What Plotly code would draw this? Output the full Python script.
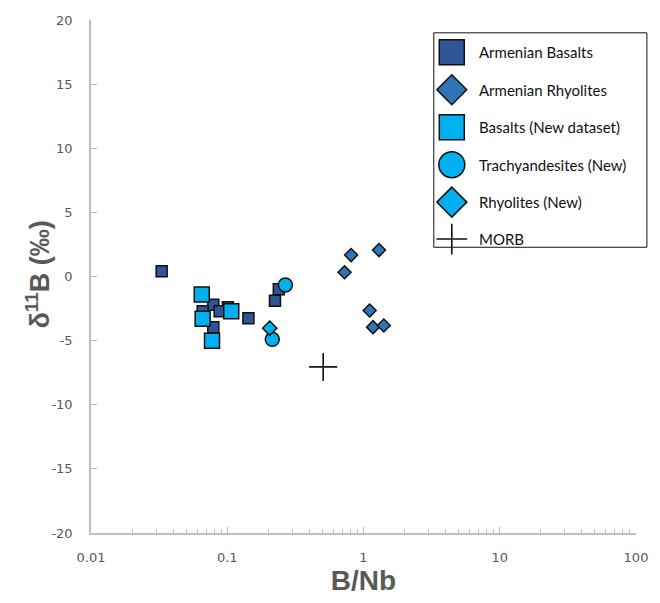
import plotly.graph_objects as go

# ---- data: B/Nb ratio vs d11B (permil) ----
arm_basalt_bnb = [0.033, 0.079, 0.101, 0.088, 0.066, 0.079, 0.143, 0.224, 0.239]
arm_basalt_d11b = [0.4, -2.2, -2.4, -2.7, -2.7, -3.95, -3.25, -1.9, -1.0]

arm_rhyolite_bnb = [0.811, 1.30, 0.726, 1.11, 1.175, 1.41]
arm_rhyolite_d11b = [1.67, 2.06, 0.33, -2.65, -3.95, -3.82]

new_basalt_bnb = [0.065, 0.107, 0.066, 0.0773]
new_basalt_d11b = [-1.4, -2.7, -3.3, -5.0]

trachy_bnb = [0.267, 0.214]
trachy_d11b = [-0.66, -4.9]

new_rhyolite_bnb = [0.205]
new_rhyolite_d11b = [-4.03]

morb_bnb = [0.506]
morb_d11b = [-7.05]

x_ticks = [0.01, 0.1, 1, 10, 100]
x_tick_text = ["0.01", "0.1", "1", "10", "100"]
y_ticks = [-20, -15, -10, -5, 0, 5, 10, 15, 20]
y_tick_text = ["-20", "-15", "-10", "-5", "0", "5", "10", "15", "20"]

DARK = "#2F5597"
MID = "#2E75B6"
LIGHT = "#00B0F0"
INK = "#111111"
AXIS_GREY = "#BFBFBF"
TEXT_GREY = "#595959"

# minor ticks at 2..9 within each decade
x_minor = [m * d for d in x_ticks[:-1] for m in range(2, 10)]

series = [
    dict(name="Armenian Basalts", x=arm_basalt_bnb, y=arm_basalt_d11b,
         symbol="square", color=DARK, size=11, lsize=25),
    dict(name="Armenian Rhyolites", x=arm_rhyolite_bnb, y=arm_rhyolite_d11b,
         symbol="diamond", color=MID, size=10, lsize=23),
    dict(name="Basalts (New dataset)", x=new_basalt_bnb, y=new_basalt_d11b,
         symbol="square", color=LIGHT, size=15, lsize=25),
    dict(name="Trachyandesites (New)", x=trachy_bnb, y=trachy_d11b,
         symbol="circle", color=LIGHT, size=14, lsize=26),
    dict(name="Rhyolites (New)", x=new_rhyolite_bnb, y=new_rhyolite_d11b,
         symbol="diamond", color=LIGHT, size=11, lsize=23),
]

fig = go.Figure()

for s in series:
    fig.add_trace(go.Scatter(
        x=s["x"], y=s["y"], mode="markers", name=s["name"], showlegend=False,
        marker=dict(symbol=s["symbol"], size=s["size"], color=s["color"],
                    line=dict(color=INK, width=1.5)),
    ))

fig.add_trace(go.Scatter(
    x=morb_bnb, y=morb_d11b, mode="markers", name="MORB", showlegend=False,
    marker=dict(symbol="cross-thin-open", size=20, color=INK,
                line=dict(color=INK, width=1.6)),
))

# ---- legend panel drawn on an overlay axis in paper fractions ----
legend_y = [0.937, 0.864, 0.791, 0.718, 0.645, 0.573]
swatch_x = 0.662
label_x = 0.708

for s, yy in zip(series, legend_y):
    fig.add_trace(go.Scatter(
        x=[swatch_x], y=[yy], xaxis="x2", yaxis="y2", mode="markers",
        showlegend=False, hoverinfo="skip",
        marker=dict(symbol=s["symbol"], size=s["lsize"], color=s["color"],
                    line=dict(color=INK, width=1.5)),
    ))
fig.add_trace(go.Scatter(
    x=[swatch_x], y=[legend_y[-1]], xaxis="x2", yaxis="y2", mode="markers",
    showlegend=False, hoverinfo="skip",
    marker=dict(symbol="cross-thin-open", size=22, color=INK,
                line=dict(color=INK, width=1.6)),
))

names = [s["name"] for s in series] + ["MORB"]
for n, yy in zip(names, legend_y):
    fig.add_annotation(
        x=label_x, y=yy, xref="paper", yref="paper", text=n, showarrow=False,
        xanchor="left", yanchor="middle",
        font=dict(family="Lato", size=15, color=INK),
    )

fig.add_shape(
    type="rect", xref="paper", yref="paper",
    x0=0.629, x1=1.020, y0=0.557, y1=0.975,
    line=dict(color=INK, width=1), fillcolor="rgba(0,0,0,0)",
)

# vertical axis title
fig.add_annotation(
    x=-0.098, y=0.503, xref="paper", yref="paper",
    text="δ<sup>11</sup>B (‰)", showarrow=False, textangle=-90,
    xanchor="center", yanchor="middle",
    font=dict(family="Liberation Sans", size=27, color=TEXT_GREY, weight="bold"),
)

tick_font = dict(family="DejaVu Sans", size=13, color=TEXT_GREY)

fig.update_layout(
    width=660, height=603,
    margin=dict(l=91, r=16, t=20, b=68),
    paper_bgcolor="white", plot_bgcolor="white",
    showlegend=False,
    xaxis=dict(
        type="log", range=[-2, 2],
        tickmode="array", tickvals=x_ticks, ticktext=x_tick_text,
        ticks="inside", ticklen=6, tickwidth=1, tickcolor=AXIS_GREY,
        minor=dict(tickmode="array", tickvals=x_minor, ticks="inside",
                   ticklen=4, tickwidth=1, tickcolor=AXIS_GREY, showgrid=False),
        showline=True, linecolor=AXIS_GREY, linewidth=1.5,
        showgrid=False, zeroline=False,
        tickfont=tick_font,
        ticklabelstandoff=12,
        title=dict(text="B/Nb", standoff=6,
                   font=dict(family="Liberation Sans", size=28, color=TEXT_GREY, weight="bold")),
    ),
    yaxis=dict(
        range=[-20, 20], tickmode="array", tickvals=y_ticks, ticktext=y_tick_text,
        ticks="inside", ticklen=6, tickwidth=1, tickcolor=AXIS_GREY,
        showline=True, linecolor=AXIS_GREY, linewidth=1.5,
        showgrid=False, zeroline=False,
        tickfont=tick_font,
        ticklabelstandoff=14,
    ),
    xaxis2=dict(domain=[0, 1], range=[0, 1], overlaying="x", visible=False, fixedrange=True),
    yaxis2=dict(domain=[0, 1], range=[0, 1], overlaying="y", anchor="x2", visible=False, fixedrange=True),
)

fig.write_html("out.html")
